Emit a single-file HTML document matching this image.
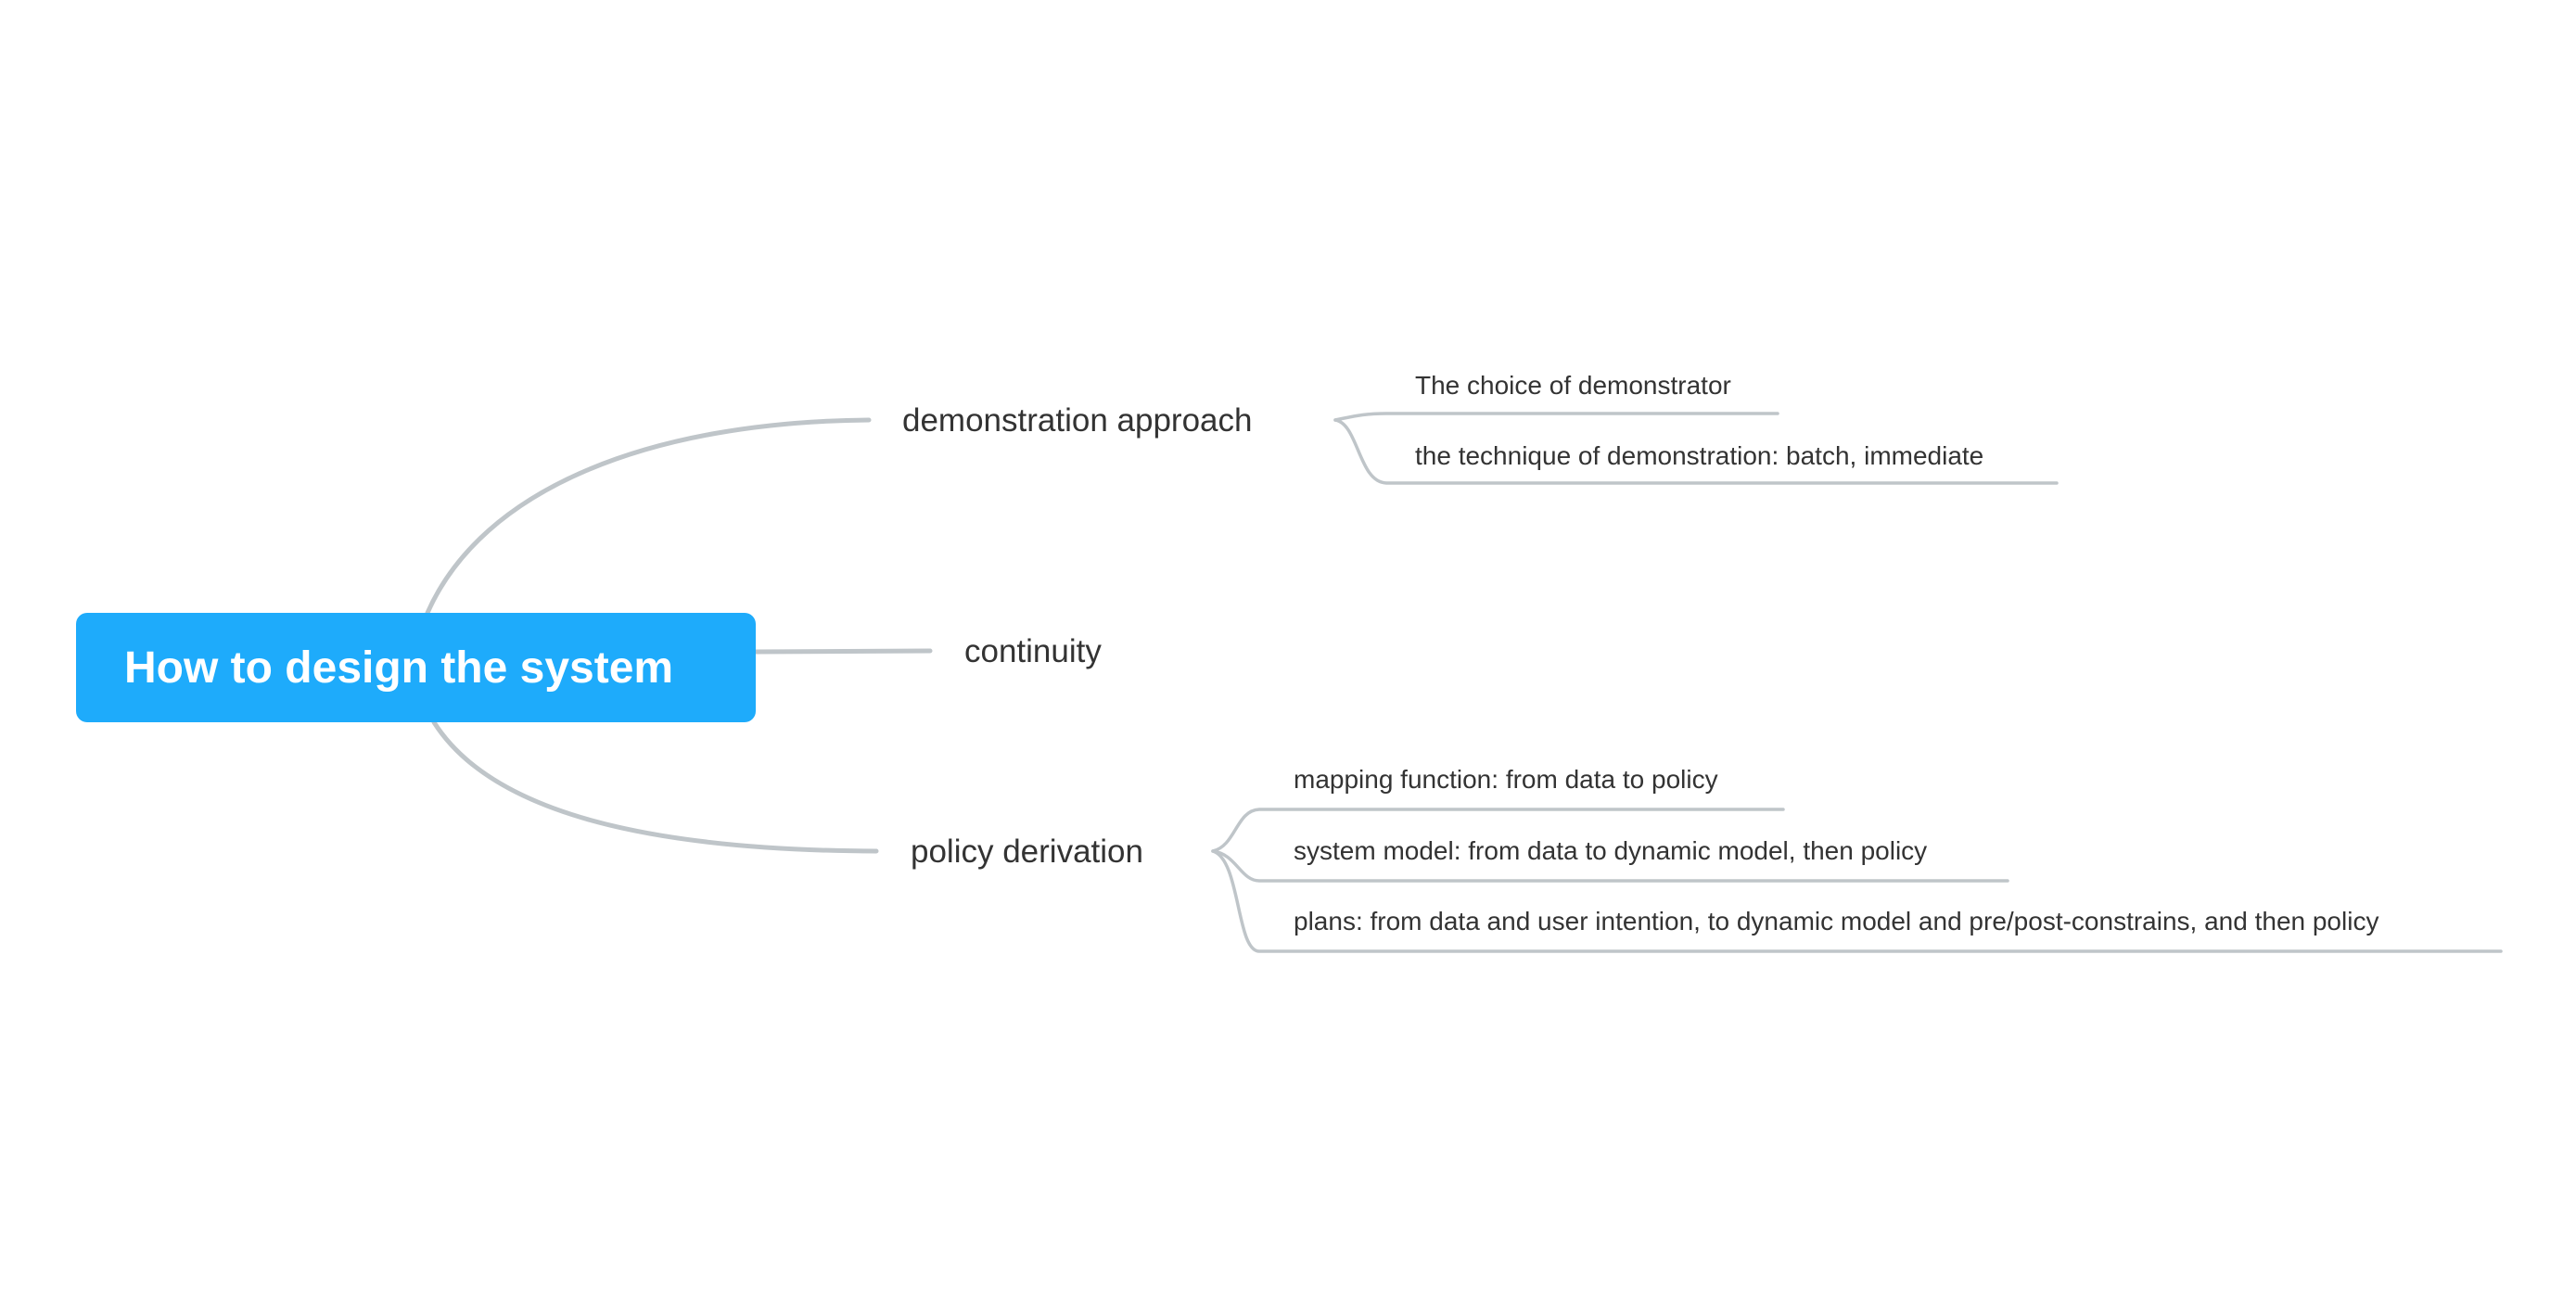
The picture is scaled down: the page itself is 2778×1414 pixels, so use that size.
<!DOCTYPE html>
<html><head><meta charset="utf-8"><style>
html,body{margin:0;padding:0;background:#fff;}
body{width:2778px;height:1414px;overflow:hidden;position:relative;font-family:"Liberation Sans",Arial,sans-serif;}
svg{position:absolute;left:0;top:0;}
</style></head><body>
<svg width="2778" height="1414" viewBox="0 0 2778 1414">
<g transform="translate(0,-3)">
<g fill="none" stroke="#bfc5c9" stroke-linecap="round">
<path d="M461 664 C 520 530, 700 458, 937 456" stroke-width="5"/>
<path d="M815 706 L 1003 705" stroke-width="5"/>
<path d="M468 782 C 530 880, 700 920, 945 921" stroke-width="5"/>
<g stroke-width="3.5">
<path d="M1440 456 C 1460 452, 1470 449, 1495 449 L 1917 449"/>
<path d="M1440 456 C 1465 460, 1465 523, 1495 524 L 2218 524"/>
<path d="M1308 921 C 1333 915, 1333 877, 1358 876 L 1923 876"/>
<path d="M1308 921 C 1333 924, 1338 953, 1358 953 L 2165 953"/>
<path d="M1308 921 C 1338 930, 1333 1029, 1358 1029 L 2697 1029"/>
</g>
</g>
<rect x="82" y="664" width="733" height="118" rx="12" fill="#1eabfb"/>
<g font-family="Liberation Sans, Arial, sans-serif">
<text x="134" y="739" font-size="48" font-weight="bold" fill="#fff">How to design the system</text>
<g font-size="35" fill="#333">
<text x="973" y="468">demonstration approach</text>
<text x="1040" y="717">continuity</text>
<text x="982" y="933">policy derivation</text>
</g>
<g font-size="28" fill="#333">
<text x="1526" y="428">The choice of demonstrator</text>
<text x="1526" y="504">the technique of demonstration: batch, immediate</text>
<text x="1395" y="853">mapping function: from data to policy</text>
<text x="1395" y="930">system model: from data to dynamic model, then policy</text>
<text x="1395" y="1006">plans: from data and user intention, to dynamic model and pre/post-constrains, and then policy</text>
</g>
</g>
</g>
</svg>
</body></html>
